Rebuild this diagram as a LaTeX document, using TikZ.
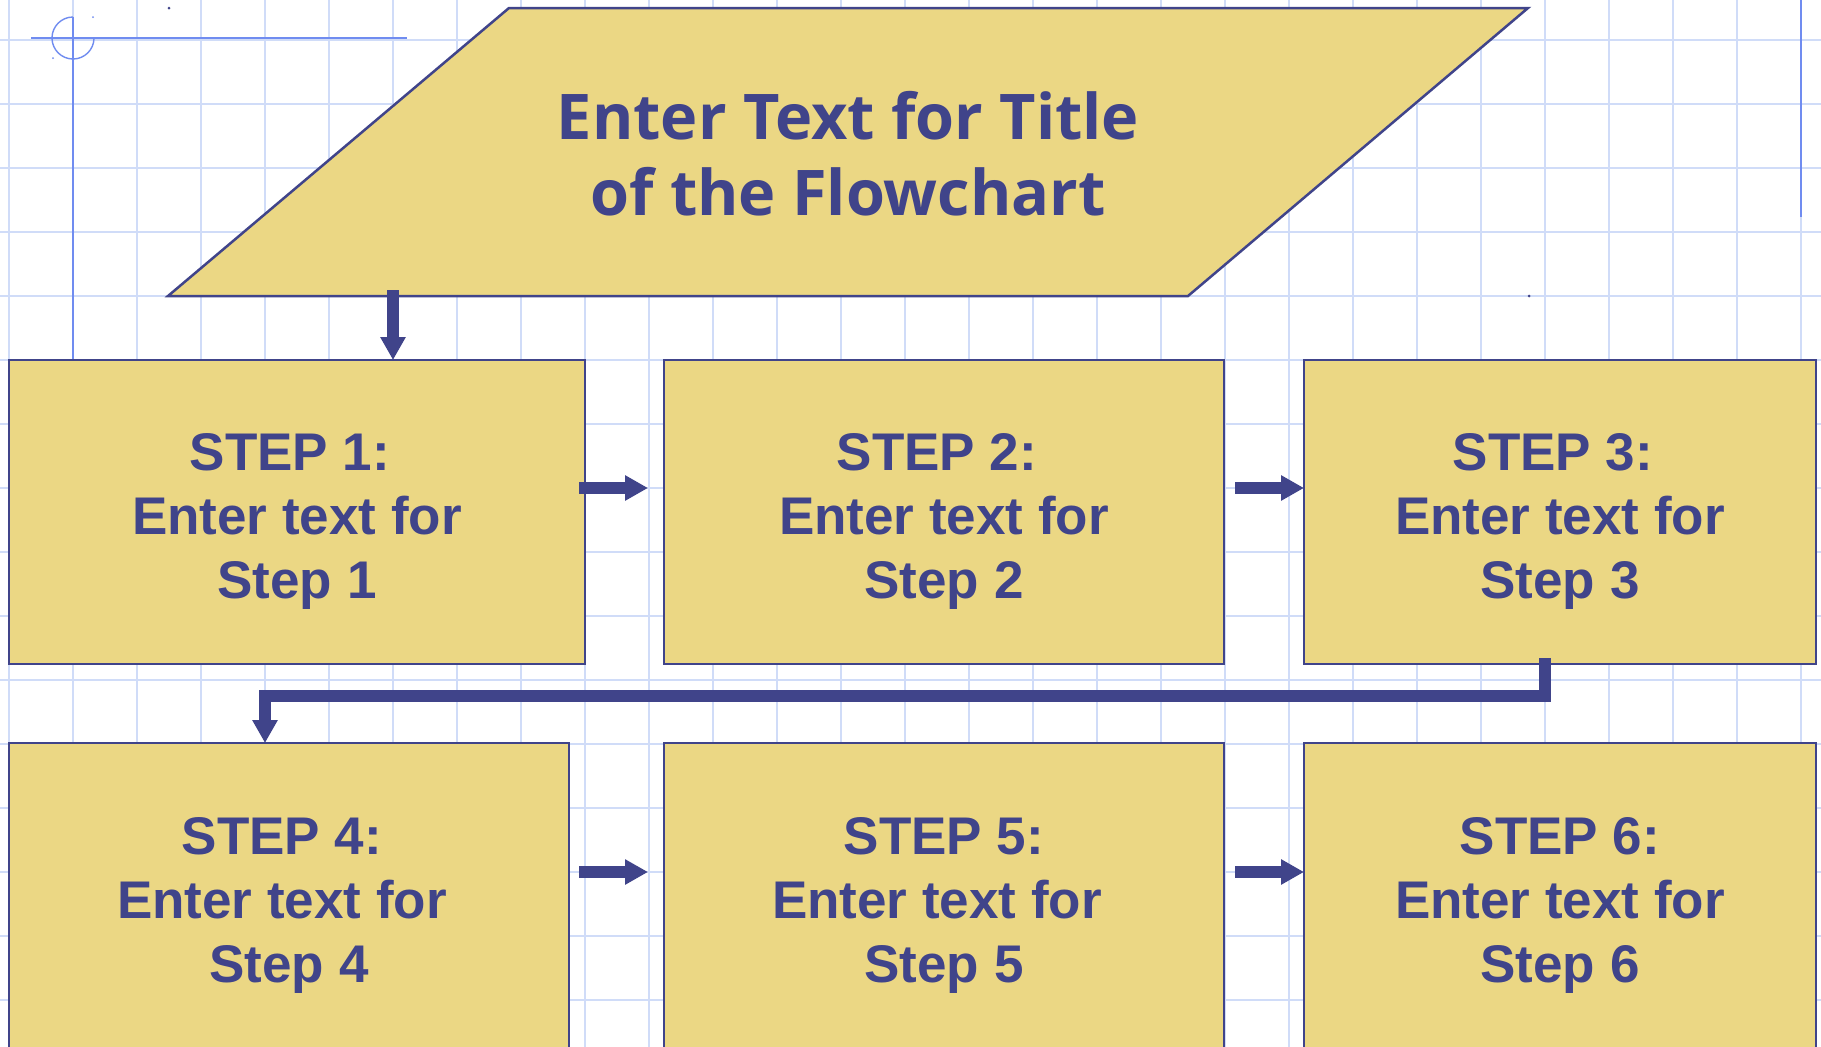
\documentclass[tikz,border=0pt]{standalone}
\usepackage{fontspec}
\setmainfont{Liberation Sans}
\newfontfamily\titlefont{Open Sans}
\usepackage{tikz}
\usetikzlibrary{arrows.meta,positioning}

\definecolor{boxfill}{RGB}{235,215,132}
\definecolor{boxline}{RGB}{64,68,138}
\definecolor{gridblue}{RGB}{208,220,248}
\definecolor{guideblue}{RGB}{112,140,240}

\newcommand{\topstrut}{\rule{0pt}{55pt}}
\newcommand{\tsp}{\kern14pt}

\begin{document}
\begin{tikzpicture}[x=1pt,y=-1pt,line join=miter,
                    flow/.style={draw=boxline,line width=12pt,
                                 -{Triangle[length=23pt,width=24pt]}},
                    gridline/.style={draw=gridblue,line width=1.6pt},
                    guide/.style={draw=guideblue,line width=1.4pt}]
  \tikzstyle{stepbox}=[draw=boxline,fill=boxfill,line width=2.5pt,text=boxline,
                       minimum height=304pt,inner sep=0pt,outer sep=0pt,align=center,
                       font=\bfseries\fontsize{53}{64}\selectfont]

  \useasboundingbox (0,0) rectangle (1821,1047);
  \clip (0,0) rectangle (1821,1047);
  \fill[white] (0,0) rectangle (1821,1047);

  \foreach \x in {9,73,...,1817}
    \draw[gridline] (\x,0) -- (\x,1047);
  \foreach \y in {40,104,...,1047}
    \draw[gridline] (0,\y) -- (1821,\y);

  \draw[guide] (73,17) -- (73,360);
  \draw[guide] (31,38) -- (407,38);
  \draw[guide] (94,38) arc[start angle=0,end angle=270,radius=21];
  \draw[guide,line width=2pt] (1801,0) -- (1801,217);
  \fill[guideblue] (93,17) circle (1pt) (53,58) circle (1pt);
  \fill[boxline] (169,8) circle (1.5pt) (1529,296) circle (1.5pt);

  \draw[draw=boxline,fill=boxfill,line width=2.5pt]
    (168,296) -- (509,8) -- (1528,8) -- (1188,296) -- cycle;
  \node[text=boxline,align=center,
        font=\titlefont\bfseries\fontsize{63}{76}\selectfont] (title) at (848,154)
        {Enter Text for Title\\of the Flowchart};
  \coordinate (tb) at (393,290);

  \node[stepbox,minimum width=576pt] (s1) at (297,512)
       {\topstrut STEP 1:\tsp\\Enter text for\\Step 1};
  \node[stepbox,minimum width=560pt] (s2) [right=79pt of s1]
       {\topstrut STEP 2:\tsp\\Enter text for\\Step 2};
  \node[stepbox,minimum width=512pt] (s3) [right=80pt of s2]
       {\topstrut STEP 3:\tsp\\Enter text for\\Step 3};
  \node[stepbox,minimum width=560pt,minimum height=306pt] (s4)
       [below=79pt of s1.south west,anchor=north west]
       {\topstrut STEP 4:\tsp\\Enter text for\tsp\\Step 4};
  \node[stepbox,minimum width=560pt,minimum height=306pt] (s5) [below=79pt of s2]
       {\topstrut STEP 5:\\Enter text for\tsp\\Step 5};
  \node[stepbox,minimum width=512pt,minimum height=306pt] (s6) [below=79pt of s3]
       {\topstrut STEP 6:\\Enter text for\\Step 6};

  \draw[flow] (tb) -- (tb |- s1.north);
  \draw[flow] ([xshift=-6pt,yshift=24pt]s1.east) -- ([xshift=-16pt,yshift=24pt]s2.west);
  \draw[flow] ([xshift=11pt,yshift=24pt]s2.east) -- ([yshift=24pt]s3.west);
  \draw[flow] ([xshift=-15pt,yshift=6pt]s3.south) -- ++(0,38) -| ([xshift=-24pt]s4.north);
  \draw[flow] ([xshift=10pt,yshift=24pt]s4.east) -- ([xshift=-16pt,yshift=24pt]s5.west);
  \draw[flow] ([xshift=11pt,yshift=24pt]s5.east) -- ([yshift=24pt]s6.west);

\end{tikzpicture}
\end{document}
